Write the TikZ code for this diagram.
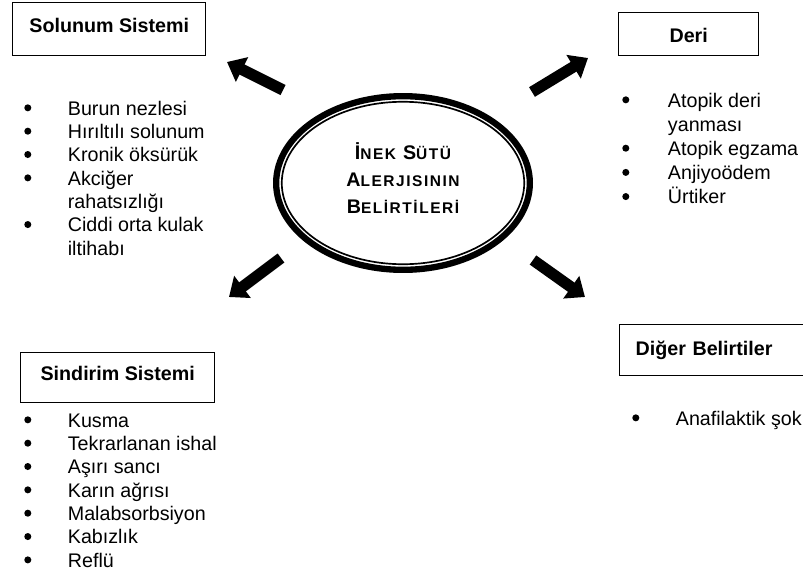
\documentclass[tikz,border=0pt]{standalone}
\usepackage{fontspec}
\setmainfont{Liberation Sans}
\newfontfamily\ovalfont[LetterSpace=10]{Liberation Sans}
\usetikzlibrary{arrows.meta, shapes.geometric}

\newcommand\capword[2]{{\fontsize{14}{19}\selectfont #1}{\fontsize{11}{19}\selectfont #2}}
\newcommand\bul{\raisebox{2.6pt}{\tikz\fill (0,0) circle (2.5pt);}}

\tikzset{
  titlebox/.style={draw, line width=1pt, inner sep=0pt, anchor=north west,
    font=\bfseries\fontsize{14}{17}\selectfont},
  symptoms/.style={anchor=base west, inner sep=0pt, font=\fontsize{14}{16.6}\selectfont},
  oval/.style={ellipse, draw, line width=4.5pt, inner sep=0pt, align=center,
    minimum width=6.34cm, minimum height=4.34cm,
    font=\ovalfont\bfseries\fontsize{13}{19}\selectfont},
  bigarrow/.style={line width=8pt, -{Triangle[length=12pt, width=19pt]}},
}

\begin{document}
\begin{tikzpicture}[x=0.025cm, y=-0.025cm]
  \useasboundingbox (0,0) rectangle (803,579);

  % centre
  \node[oval] (oval) at (403,183) {\capword{İ}{NEK} \capword{S}{ÜTÜ}\\
    \capword{A}{LERJISININ}\\ \capword{B}{ELİRTİLERİ}\rule[-7pt]{0pt}{0pt}};
  \draw[line width=1.2pt] (oval.center) ellipse [x radius=3.03cm, y radius=2.03cm];

  % headings
  \node[titlebox, minimum width=4.825cm, text height=0.75cm, text depth=0.575cm]
    (solunum) at (12,2) {Solunum Sistemi};
  \node[titlebox, minimum width=3.5cm, text height=0.75cm, text depth=0.325cm]
    (deri) at (618,12) {Deri};
  \node[titlebox, minimum width=4.85cm, text height=0.7cm, text depth=0.55cm]
    (sindirim) at (20,352) {Sindirim Sistemi};
  \node[titlebox, inner xsep=0.4cm, text width=5cm, align=left,
    text height=0.775cm, text depth=0.5cm]
    (diger) at (619,324) {Diğer Belirtiler};

  % lists
  \node[symptoms] (solList) at (24,115) {\begin{tabular}[t]{@{}p{31pt}@{}l@{}}
    \bul & Burun nezlesi\\
    \bul & Hırıltılı solunum\\
    \bul & Kronik öksürük\\
    \bul & Akciğer\\
         & rahatsızlığı\\
    \bul & Ciddi orta kulak\\
         & iltihabı
  \end{tabular}};
  \node[symptoms, font=\fontsize{14}{17.2}\selectfont] (deriList) at (622,107)
    {\begin{tabular}[t]{@{}p{32.5pt}@{}l@{}}
    \bul & Atopik deri\\
         & yanması\\
    \bul & Atopik egzama\\
    \bul & Anjiyoödem\\
    \bul & Ürtiker
  \end{tabular}};
  \node[symptoms] (sinList) at (24,427) {\begin{tabular}[t]{@{}p{31pt}@{}l@{}}
    \bul & Kusma\\
    \bul & Tekrarlanan ishal\\
    \bul & Aşırı sancı\\
    \bul & Karın ağrısı\\
    \bul & Malabsorbsiyon\\
    \bul & Kabızlık\\
    \bul & Reflü
  \end{tabular}};
  \node[symptoms] (digerList) at (632,425) {\begin{tabular}[t]{@{}p{31pt}@{}l@{}}
    \bul & Anafilaktik şok
  \end{tabular}};

  % arrows
  \coordinate (solTail) at (283,90);
  \coordinate (solTip) at (227,62);
  \coordinate (deriTail) at (532,92);
  \coordinate (deriTip) at (588,58);
  \coordinate (sinTail) at (281,258);
  \coordinate (sinTip) at (229,297);
  \coordinate (digerTail) at (533,260);
  \coordinate (digerTip) at (585,297);

  \draw[bigarrow] (solTail) -- (solTip);
  \draw[bigarrow] (deriTail) -- (deriTip);
  \draw[bigarrow] (sinTail) -- (sinTip);
  \draw[bigarrow] (digerTail) -- (digerTip);
\end{tikzpicture}
\end{document}
